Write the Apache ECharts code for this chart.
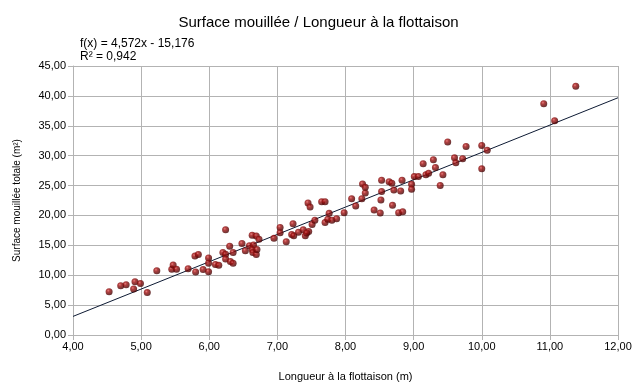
<!DOCTYPE html>
<html>
<head>
<meta charset="utf-8">
<script src="https://cdn.jsdelivr.net/npm/echarts@6/dist/echarts.min.js"></script>
<style>html,body{margin:0;padding:0;background:#fff;}#c{width:637px;height:390px;}</style>
</head>
<body>
<div id="c"></div>
<script>
var lengths = [4.53,4.70,4.78,4.89,4.91,4.99,5.09,5.23,5.45,5.47,5.52,5.69,5.79,5.80,5.84,5.91,5.99,5.99,5.99,6.09,6.14,6.20,6.24,6.24,6.24,6.30,6.31,6.35,6.35,6.48,6.53,6.59,6.63,6.65,6.69,6.63,6.64,6.69,6.70,6.73,6.95,7.04,7.04,7.13,7.23,7.21,7.24,7.31,7.38,7.41,7.46,7.43,7.45,7.48,7.51,7.55,7.65,7.70,7.70,7.74,7.76,7.80,7.87,7.98,8.09,8.15,8.24,8.29,8.25,8.29,8.42,8.51,8.52,8.53,8.53,8.64,8.68,8.83,8.71,8.81,8.69,8.78,8.84,8.97,8.97,9.01,9.07,9.18,9.22,9.14,9.29,9.32,9.39,9.43,9.50,9.60,9.62,9.72,9.77,10.00,10.08,10.00,10.91,11.07,11.38];
var surfaces = [7.25,8.25,8.4,7.7,8.9,8.6,7.1,10.75,11.0,11.7,11.0,11.1,13.2,10.55,13.45,10.95,12.9,12.0,10.6,11.8,11.65,13.8,17.6,13.5,12.7,14.85,12.3,13.8,12.0,15.3,14.1,14.95,16.7,15.05,16.55,14.3,13.8,13.45,14.3,16.0,16.2,18.0,17.1,15.6,18.6,16.8,16.6,17.2,17.6,16.6,17.3,17.05,22.1,21.4,18.5,19.2,22.3,22.3,18.8,19.35,20.35,19.2,19.45,20.45,22.8,21.6,22.8,23.75,25.25,24.7,20.9,20.4,22.6,24.0,25.9,25.65,25.4,25.9,24.25,24.1,21.7,20.45,20.6,25.2,24.4,26.5,26.5,26.8,27.05,28.65,29.3,28.0,25.0,26.8,32.3,29.65,28.8,29.5,31.55,31.7,30.9,27.8,38.7,35.85,41.6];
var trendX = [4, 12];
var trendY = [3.112, 39.688];
var titleText = 'Surface mouillée / Longueur à la flottaison';
var eqText = 'f(x) = 4,572x - 15,176';
var r2Text = 'R² = 0,942';
var xName = 'Longueur à la flottaison (m)';
var yName = 'Surface mouillée totale (m²)';

var pts = lengths.map(function(x,i){return [x, surfaces[i]];});
var trend = trendX.map(function(x,i){return [x, trendY[i]];});
var fmt = function(v){return v.toFixed(2).replace('.', ',');};
var FONT = '"Liberation Sans", Arial, sans-serif';
var gridColor = '#b3b3b3';

var chart = echarts.init(document.getElementById('c'), null, {renderer:'canvas'});
chart.setOption({
  backgroundColor:'#ffffff',
  animation:false,
  title:{text:titleText, left:'center', top:10, textStyle:{fontFamily:FONT, fontSize:15, fontWeight:'normal', color:'#000'}},
  graphic:[
    {type:'text', left:80, top:38, style:{text:eqText, font:'12px '+FONT, fill:'#000'}},
    {type:'text', left:80, top:51, style:{text:r2Text, font:'12px '+FONT, fill:'#000'}}
  ],
  grid:{left:73, right:19, top:66, bottom:55, containLabel:false},
  xAxis:{type:'value', min:4, max:12, interval:1,
    name:xName, nameLocation:'middle', nameGap:36,
    nameTextStyle:{fontFamily:FONT, fontSize:11, color:'#000'},
    axisLine:{show:true, onZero:false, lineStyle:{color:gridColor}},
    axisTick:{show:true, length:5, lineStyle:{color:gridColor}},
    splitLine:{show:true, lineStyle:{color:gridColor, width:1}},
    axisLabel:{formatter:fmt, fontFamily:FONT, fontSize:11, color:'#000', margin:6}},
  yAxis:{type:'value', min:0, max:45, interval:5,
    name:yName, nameLocation:'middle', nameGap:51,
    nameTextStyle:{fontFamily:FONT, fontSize:10, color:'#000'},
    axisLine:{show:true, onZero:false, lineStyle:{color:gridColor}},
    axisTick:{show:true, length:5, lineStyle:{color:gridColor}},
    splitLine:{show:true, lineStyle:{color:gridColor, width:1}},
    axisLabel:{formatter:fmt, fontFamily:FONT, fontSize:11, color:'#000', margin:7}},
  series:[
    {type:'line', data:trend, showSymbol:false, symbol:'none', lineStyle:{color:'#0d1a33', width:1}, z:3},
    {type:'scatter', data:pts, symbol:'circle', symbolSize:7, z:4,
      itemStyle:{color:{type:'radial', x:0.38, y:0.35, r:0.7, colorStops:[
        {offset:0, color:'#e06060'},{offset:0.3, color:'#a01010'},{offset:1, color:'#3a0000'}]}}}
  ]
});
</script>
</body>
</html>
